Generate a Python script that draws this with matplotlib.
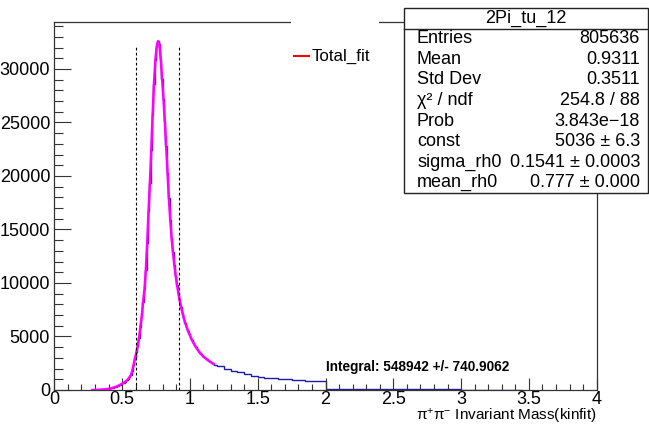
import numpy as np
import matplotlib
matplotlib.use('Agg')
import matplotlib.pyplot as plt
from matplotlib.patches import Rectangle
from matplotlib.lines import Line2D

plt.rcParams['font.family'] = ['Liberation Sans', 'DejaVu Sans']
plt.rcParams['mathtext.fontset'] = 'custom'
plt.rcParams['mathtext.rm'] = 'Liberation Sans'
plt.rcParams['mathtext.it'] = 'Liberation Sans:italic'

# fine bins (0.01) around the rho peak, from 0.28 to 1.20
peak_start = 0.28
peak_counts = [5, 10, 15, 20, 25, 30, 40, 50, 60, 70, 80, 100,
               120, 150, 180, 220, 260, 310, 360, 420, 480, 550,
               630, 700, 790, 900, 1030, 1200, 1400, 1790, 2380, 2960,
               3520, 4080, 4880, 5920, 6900, 8220, 9400, 11210, 13700, 16700,
               19350, 22420, 25700, 28600, 30800, 32080, 32600, 32300, 30900, 29050,
               27200, 25100, 22800, 20300, 17900, 15900, 14200, 12900, 11700, 10700,
               9850, 9040, 8350, 7750, 7230, 6720, 6300, 5900, 5560, 5250,
               4950, 4680, 4430, 4200, 3990, 3800, 3620, 3460, 3320, 3190,
               3070, 2960, 2860, 2760, 2670, 2590, 2510, 2440, 2370, 2300]
# coarser bins (0.05) for the tail, from 1.20
tail_start = 1.20
tail_counts = [2200, 1980, 1800, 1640, 1480, 1350, 1240, 1160, 1100, 1060,
               1010, 960, 910, 870, 840, 800,
               120, 100, 95, 95, 90, 90, 85, 85, 80, 80,
               75, 75, 75, 70, 70, 70, 65, 65, 65, 60,
               30, 30, 25, 25, 25, 20, 20, 15, 10]
fit_end = 1.18

cut_lo, cut_hi = 0.60, 0.92
cut_height = 32150

stat_title = '2Pi_tu_12'
stat_names = ['Entries', 'Mean', 'Std Dev', 'χ² / ndf', 'Prob', 'const',
              'sigma_rh0', 'mean_rh0']
stat_values = ['805636', '0.9311', '0.3511', '254.8 / 88', '3.843e\u221218',
               '5036 ± 6.3', '0.1541 ± 0.0003', '0.777 ± 0.000']
integral_text = 'Integral: 548942 +/- 740.9062'
legend_label = 'Total_fit'

W, H = 649, 425


def fx(px):
    return px / W


def fy(py):
    return 1 - py / H


peak_edges = np.round(peak_start + 0.01 * np.arange(len(peak_counts) + 1), 3)
tail_edges = np.round(tail_start + 0.05 * np.arange(len(tail_counts) + 1), 3)
edges = np.concatenate([peak_edges[:-1], tail_edges])
counts = np.array(peak_counts + tail_counts, dtype=float)

fig = plt.figure(figsize=(W / 100, H / 100), dpi=100)
ax = fig.add_axes([fx(54.3), fy(390), (596.7 - 54.3) / W, (390 - 22) / H])

ax.stairs(counts, edges, color='#1c1ca8', lw=1.0, baseline=0)

centers = 0.5 * (peak_edges[:-1] + peak_edges[1:])
sel = centers <= fit_end
ax.plot(np.concatenate([[peak_start], centers[sel]]),
        np.concatenate([[0], np.array(peak_counts, dtype=float)[sel]]),
        color='#ff00ff', lw=1.8, zorder=3)

for xc in (cut_lo, cut_hi):
    ax.plot([xc, xc], [0, cut_height], color='black', lw=0.8,
            linestyle=(0, (2.5, 2)), zorder=4)

ax.set_xlim(0, 4)
ax.set_ylim(0, 34390)
ax.set_xticks(np.arange(0, 4.01, 0.5))
ax.set_xticks(np.arange(0, 4.01, 0.1), minor=True)
ax.set_xticklabels(['0', '0.5', '1', '1.5', '2', '2.5', '3', '3.5', '4'])
ax.set_yticks(np.arange(0, 30001, 5000))
ax.set_yticks(np.arange(0, 34001, 1000), minor=True)
ax.tick_params(axis='both', which='both', direction='in', labelsize=13,
               color='#333333', width=0.8)
ax.tick_params(axis='x', which='major', length=8.6, pad=0.5)
ax.tick_params(axis='x', which='minor', length=4.3)
ax.tick_params(axis='y', which='major', length=12.2, pad=3)
ax.tick_params(axis='y', which='minor', length=6.5)
for s in ax.spines.values():
    s.set_color('#333333')
    s.set_linewidth(0.9)

ax.text(2.0, 2150, integral_text, fontsize=9.8, fontweight='bold',
        va='center', ha='left')

fig.text(fx(597), fy(416), 'π$^{+}$π$^{-}$ Invariant Mass(kinfit)',
         ha='right', va='center', fontsize=11)

# legend box (white, hides part of the frame)
fig.add_artist(Rectangle((fx(291), fy(95)), (379 - 291) / W, 80 / H,
                         transform=fig.transFigure, facecolor='white',
                         edgecolor='none', zorder=10))
fig.add_artist(Line2D([fx(294), fx(309)], [fy(56), fy(56)],
                      transform=fig.transFigure, color='#ff0000', lw=1.5,
                      zorder=11))
fig.text(fx(312), fy(56), legend_label, ha='left', va='center',
         fontsize=12.2, zorder=11)

# stats box: title line + 8 rows spread evenly over the box
box_top, box_bot = 8, 193
row_h = (box_bot - box_top) / 9
fig.add_artist(Rectangle((fx(404), fy(box_bot)), (648 - 404) / W,
                         (box_bot - box_top) / H,
                         transform=fig.transFigure, facecolor='white',
                         edgecolor='#222222', lw=1.0, zorder=10))
fig.add_artist(Line2D([fx(404), fx(648)], [fy(box_top + row_h)] * 2,
                      transform=fig.transFigure, color='#222222', lw=1.0,
                      zorder=11))
fig.text(fx(526), fy(box_top + 0.5 * row_h), stat_title, ha='center',
         va='center', fontsize=13, zorder=11)
for i, (name, val) in enumerate(zip(stat_names, stat_values)):
    yy = box_top + (i + 1.5) * row_h
    fig.text(fx(417), fy(yy), name, ha='left', va='center',
             fontsize=13, zorder=11)
    fig.text(fx(640), fy(yy), val, ha='right', va='center',
             fontsize=13, zorder=11)

fig.savefig('out.png', dpi=100)
